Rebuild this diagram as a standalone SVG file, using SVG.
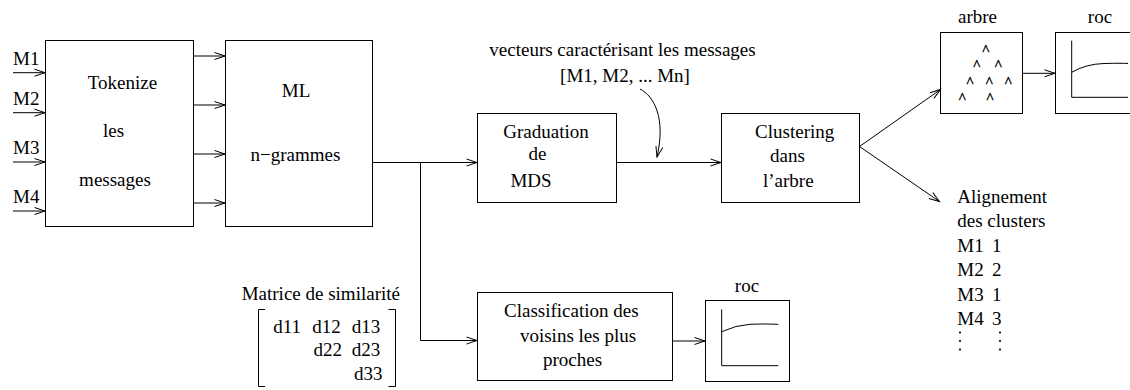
<svg xmlns="http://www.w3.org/2000/svg" width="1130" height="390" viewBox="0 0 1130 390">
<defs>
<marker id="arr" markerUnits="userSpaceOnUse" markerWidth="14" markerHeight="10" refX="10.5" refY="4" orient="auto" overflow="visible">
<path d="M0,0.5 L10.5,4 L0,7.5" fill="none" stroke="#000" stroke-width="1"/>
</marker>
</defs>
<style>
text{font-family:"Liberation Serif","Times New Roman",serif;font-size:19px;fill:#000}
.c{text-anchor:middle}
.car{font-size:15px;text-anchor:middle;stroke:#000;stroke-width:0.4}
.box{fill:#fff;stroke:#000;stroke-width:1}
.ln{fill:none;stroke:#000;stroke-width:1}
.a{marker-end:url(#arr)}
</style>
<rect width="1130" height="390" fill="#fff"/>

<g id="inputs">
<text x="13" y="65">M1</text>
<text x="13" y="105">M2</text>
<text x="13" y="154">M3</text>
<text x="13" y="203">M4</text>
</g>

<g id="tokenize">
<rect class="box" x="45.5" y="40.5" width="148" height="186"/>
<text class="c" x="122.5" y="89">Tokenize</text>
<text class="c" x="113.5" y="137">les</text>
<text class="c" x="115" y="186">messages</text>
</g>

<g id="ml">
<rect class="box" x="225.5" y="40.5" width="147" height="186"/>
<text class="c" x="296" y="97">ML</text>
<text class="c" x="295.5" y="161">n−grammes</text>
</g>

<g id="graduation">
<rect class="box" x="477.5" y="113.5" width="139" height="89"/>
<text class="c" x="546" y="138">Graduation</text>
<text class="c" x="537.5" y="160">de</text>
<text class="c" x="531" y="186.5">MDS</text>
</g>

<g id="vecteurs">
<text class="c" x="622.5" y="56">vecteurs caractérisant les messages</text>
<text class="c" x="625" y="81.5">[M1, M2, ... Mn]</text>
</g>

<g id="clustering">
<rect class="box" x="721.5" y="113.5" width="138" height="89"/>
<text class="c" x="794.7" y="138.3">Clustering</text>
<text class="c" x="787.5" y="162.3">dans</text>
<text class="c" x="788.3" y="186.7">l’arbre</text>
</g>

<g id="arbre">
<text class="c" x="977.5" y="23.3">arbre</text>
<rect class="box" x="940.5" y="32.5" width="82" height="81"/>
<text class="car" x="985.7" y="55">^</text>
<text class="car" x="976.7" y="70">^</text>
<text class="car" x="998.3" y="70">^</text>
<text class="car" x="970" y="86.7">^</text>
<text class="car" x="989.3" y="86.7">^</text>
<text class="car" x="1008.3" y="86.7">^</text>
<text class="car" x="962.3" y="103.4">^</text>
<text class="car" x="990" y="103.4">^</text>
</g>

<g id="roc1">
<text class="c" x="1100" y="23.3">roc</text>
<rect class="box" x="1055.5" y="32.5" width="82" height="81"/>
<path class="ln" d="M1071.7,40.7 V97.3 H1128"/>
<path class="ln" d="M1071.7,72.3 Q1086,64 1104,63.5 T1128,63.5"/>
</g>

<g id="alignement">
<text x="957.3" y="203.3">Alignement</text>
<text x="957.3" y="226.7">des clusters</text>
<text x="957.3" y="251.7">M1</text><text x="992" y="251.7">1</text>
<text x="957.3" y="276">M2</text><text x="992" y="276">2</text>
<text x="957.3" y="300.7">M3</text><text x="992" y="300.7">1</text>
<text x="957.3" y="325">M4</text><text x="992" y="325">3</text>
<g fill="#000">
<circle cx="960" cy="332.5" r="1.1"/><circle cx="960" cy="341" r="1.1"/><circle cx="960" cy="349.5" r="1.1"/>
<circle cx="1000" cy="332.5" r="1.1"/><circle cx="1000" cy="341" r="1.1"/><circle cx="1000" cy="349.5" r="1.1"/>
</g>
</g>

<g id="matrice">
<text x="241.7" y="300">Matrice de similarité</text>
<path class="ln" d="M265,309.5 H258.5 V386.5 H265"/>
<path class="ln" d="M388.5,309.5 H395.5 V386.5 H388.5"/>
<text x="273.3" y="332.7">d11</text>
<text x="312.3" y="332.7">d12</text>
<text x="351.7" y="332.7">d13</text>
<text x="313.5" y="356">d22</text>
<text x="351.7" y="356">d23</text>
<text x="354" y="380">d33</text>
</g>

<g id="classification">
<rect class="box" x="477.5" y="292.5" width="195" height="88"/>
<text class="c" x="571.3" y="316.7">Classification des</text>
<text class="c" x="578" y="341.7">voisins les plus</text>
<text class="c" x="572.5" y="366">proches</text>
</g>

<g id="roc2">
<text class="c" x="747" y="291.7">roc</text>
<rect class="box" x="705.5" y="300.5" width="84" height="81"/>
<path class="ln" d="M721.7,309.3 V365.7 H778.3"/>
<path class="ln" d="M721.7,331.7 Q736,325 750,324.3 T778.3,324.3"/>
</g>

<g id="connectors">
<line class="ln a" x1="13" y1="72.7" x2="45" y2="72.7"/>
<line class="ln a" x1="13" y1="112.7" x2="45" y2="112.7"/>
<line class="ln a" x1="13" y1="162" x2="45" y2="162"/>
<line class="ln a" x1="13" y1="211" x2="45" y2="211"/>
<line class="ln a" x1="193.5" y1="56" x2="225" y2="56"/>
<line class="ln a" x1="193.5" y1="105" x2="225" y2="105"/>
<line class="ln a" x1="193.5" y1="154" x2="225" y2="154"/>
<line class="ln a" x1="193.5" y1="203" x2="225" y2="203"/>
<line class="ln a" x1="372.5" y1="162.5" x2="477" y2="162.5"/>
<path class="ln a" d="M420.5,162.5 V340.5 H477"/>
<line class="ln a" x1="616.5" y1="162.5" x2="721" y2="162.5"/>
<path class="ln a" d="M640,89 C654,96 666,118 657,157"/>
<line class="ln a" x1="859.5" y1="146.5" x2="940.5" y2="89.5"/>
<line class="ln a" x1="859.5" y1="146.5" x2="939.5" y2="201.5"/>
<line class="ln a" x1="1022.5" y1="73.3" x2="1055" y2="73.3"/>
<line class="ln a" x1="672.5" y1="341" x2="705" y2="341"/>
</g>
</svg>
